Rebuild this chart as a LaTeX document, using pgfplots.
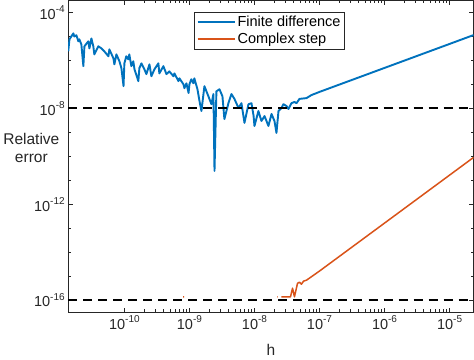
\documentclass[border=0pt]{standalone}
\usepackage{pgfplots}
\pgfplotsset{compat=1.18}
\usepackage{fontspec}
\setmainfont{Liberation Sans}
\definecolor{mblue}{rgb}{0,0.447,0.741}
\definecolor{morange}{rgb}{0.85,0.325,0.098}
\definecolor{axgray}{rgb}{0.15,0.15,0.15}
\newcommand{\tp}[1]{10\raisebox{0.45em}{\fontsize{10}{10}\selectfont #1}}
\begin{document}
\begin{tikzpicture}
\begin{loglogaxis}[
  scale only axis,
  width=405pt, height=311.5pt,
  xmin=1.37e-11, xmax=2.34e-5,
  ymin=3.2e-17, ymax=3.2e-4,
  axis line style={axgray, line width=0.8pt},
  every tick/.style={axgray, line width=0.6pt},
  major tick length=4.5pt, minor tick length=2.8pt,
  xtick={1e-10,1e-9,1e-8,1e-7,1e-6,1e-5},
  xticklabels={\tp{-10},\tp{-9},\tp{-8},\tp{-7},\tp{-6},\tp{-5}},
  ytick={1e-16,1e-12,1e-8,1e-4},
  yticklabels={\tp{-16},\tp{-12},\tp{-8},\tp{-4}},
  minor ytick={1e-17,1e-15,1e-14,1e-13,1e-11,1e-10,1e-9,1e-7,1e-6,1e-5},
  tick label style={font=\fontsize{14.5}{16}\selectfont, text=axgray},
  xlabel={h},
  ylabel={Relative\\error},
  xlabel style={font=\fontsize{15.5}{17}\selectfont, text=axgray, at={(axis description cs:0.5,-0.122)}, anchor=center},
  ylabel style={font=\fontsize{15.5}{18}\selectfont, text=axgray, rotate=-90, align=center, at={(axis description cs:-0.091,0.527)}, anchor=center},
  unbounded coords=jump,
  legend style={at={(axis description cs:0.311,0.964)}, anchor=north west, draw=axgray, line width=0.6pt, fill=white,
    font=\fontsize{14.5}{16}\selectfont, inner sep=2pt, row sep=1pt},
  legend cell align=left,
  legend image code/.code={\draw[#1] (0pt,0pt) -- (37pt,0pt);},
]
\addplot[mblue, line width=1.9pt, line join=round] coordinates {
(1.37e-11,2.4e-6)(1.43e-11,7.6e-6)(1.64e-11,1.35e-5)(1.70e-11,1.0e-5)(1.83e-11,1.12e-5)
(1.96e-11,6.3e-6)(2.03e-11,7.6e-6)(2.18e-11,4.7e-6)(2.34e-11,5.8e-7)(2.43e-11,3.9e-6)
(2.79e-11,6.3e-6)(2.90e-11,3.2e-6)(3.11e-11,8.3e-6)(3.33e-11,3.9e-6)(3.45e-11,1.8e-6)
(3.98e-11,3.9e-6)(4.43e-11,3.2e-6)(4.92e-11,2.4e-6)(5.68e-11,1.5e-6)(5.88e-11,2.9e-6)
(6.78e-11,1.23e-6)(7.02e-11,6.9e-7)(7.54e-11,1.8e-6)(8.38e-11,9.3e-7)(9.0e-11,4.8e-7)
(9.7e-11,8.5e-8)(1.0e-10,7.6e-7)(1.07e-10,1.5e-6)(1.15e-10,1.12e-6)(1.19e-10,1.8e-6)
(1.28e-10,5.8e-7)(1.37e-10,9.3e-7)(1.43e-10,4.3e-7)(1.64e-10,1.38e-7)(1.70e-10,4.8e-7)
(1.83e-10,7.6e-7)(2.03e-10,4.3e-7)(2.18e-10,2.7e-7)(2.43e-10,6.9e-7)(2.60e-10,2.2e-7)
(2.90e-10,4.3e-7)(3.33e-10,7.6e-7)(3.45e-10,2.9e-7)(3.98e-10,5.8e-7)(4.43e-10,2.7e-7)
(4.92e-10,3.5e-7)(5.68e-10,2.2e-7)(5.88e-10,2.9e-7)(6.78e-10,1.38e-7)(7.02e-10,1.8e-7)
(8.09e-10,1.02e-7)(8.38e-10,7.0e-8)(9.0e-10,1.12e-7)(9.7e-10,4.4e-8)(1.0e-9,1.02e-7)
(1.07e-9,1.65e-7)(1.15e-9,1.12e-7)(1.19e-9,1.8e-7)(1.33e-9,6.3e-8)(1.43e-9,2.0e-8)
(1.53e-9,7.8e-9)(1.70e-9,8.5e-8)(1.96e-9,3.2e-8)(2.18e-9,1.5e-8)(2.34e-9,4.0e-8)
(2.43e-9,2.5e-11)(2.60e-9,5.2e-8)(2.90e-9,6.3e-8)(3.22e-9,3.2e-8)(3.45e-9,3.6e-9)
(3.98e-9,1.66e-8)(4.43e-9,4.0e-8)(4.92e-9,2.5e-8)(5.68e-9,1.05e-8)(6.31e-9,1.66e-8)
(7.02e-9,2.5e-9)(8.09e-9,1.5e-8)(9.0e-9,1.66e-8)(9.7e-9,4.8e-9)(1.0e-8,1.86e-9)
(1.15e-8,7.8e-9)(1.28e-8,3.0e-9)(1.43e-8,4.8e-9)(1.64e-8,1.86e-9)(1.83e-8,5.9e-9)
(2.03e-8,3.0e-9)(2.18e-8,9.5e-10)(2.34e-8,7.8e-9)(2.60e-8,1.05e-8)(2.79e-8,1.5e-8)
(3.11e-8,1.26e-8)(3.33e-8,9.5e-9)(3.71e-8,1.66e-8)(4.12e-8,1.86e-8)(4.43e-8,1.66e-8)
(4.92e-8,2.5e-8)(6.31e-8,2.7e-8)(7.5e-8,3.6e-8)(1e-7,4.9e-8)(1e-6,4.9e-7)
(1e-5,4.9e-6)(2.34e-5,1.15e-5)
};
\addlegendentry{Finite difference}
\addplot[morange, line width=1.5pt, line join=round] coordinates {
(8.0e-10,1.4e-16)(8.3e-10,1.4e-16)(8.6e-10,nan)
(2.24e-8,1.4e-16)(2.28e-8,1.4e-16)(2.4e-8,nan)
(2.6e-8,1.4e-16)(3.58e-8,1.4e-16)(3.85e-8,3.2e-16)(4.12e-8,1.4e-16)(4.59e-8,5.1e-16)
(4.92e-8,5.7e-16)(5.28e-8,4.7e-16)(5.68e-8,6.3e-16)(6.31e-8,6.9e-16)(1e-7,1.66e-15)
(1e-6,1.66e-13)(1e-5,1.66e-11)(2.34e-5,9.1e-11)
};
\addlegendentry{Complex step}
\addplot[black, line width=1.9pt, dash pattern=on 9pt off 6pt, forget plot] coordinates {(1.37e-11,1e-8) (2.34e-5,1e-8)};
\addplot[black, line width=1.9pt, dash pattern=on 9pt off 6pt, forget plot] coordinates {(1.37e-11,1e-16) (2.34e-5,1e-16)};
\end{loglogaxis}
\end{tikzpicture}
\end{document}
